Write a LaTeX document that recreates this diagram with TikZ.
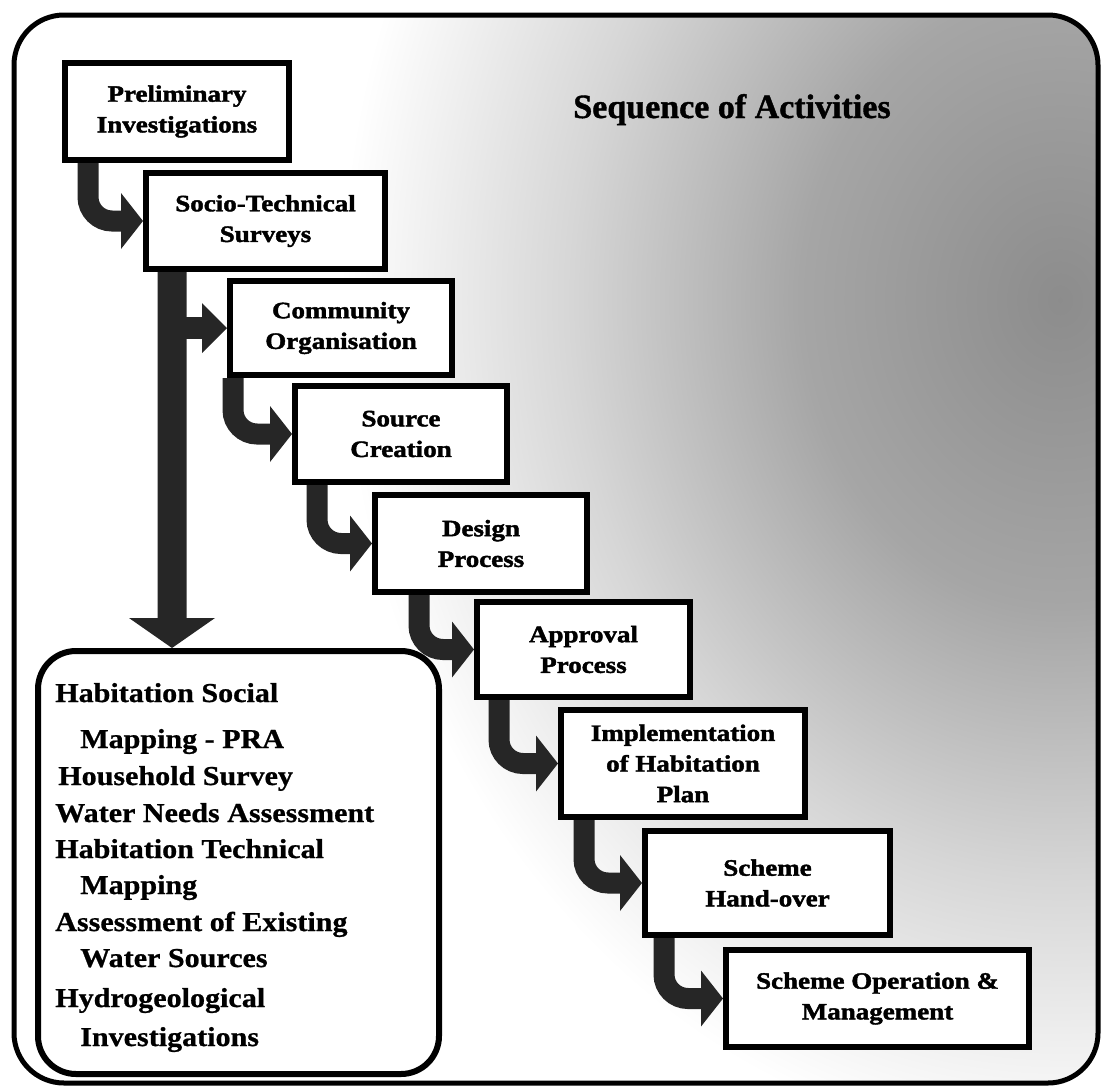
\documentclass[tikz,border=0pt]{standalone}
\usepackage{fontspec}
\newfontfamily\boxfont{Liberation Serif}[FakeStretch=1.15, FakeBold=1.8]
\newfontfamily\listfont{Liberation Serif}[FakeStretch=1.1, FakeBold=0.8]
\newfontfamily\titlefont{Liberation Serif}[FakeBold=1.2]
\usetikzlibrary{calc}
% soft grey haze behind the right-hand side of the sheet
\pgfdeclareradialshading{haze}{\pgfpoint{0bp}{0bp}}{color(0bp)=(black!45); color(9bp)=(black!35); color(17bp)=(black!16); color(25bp)=(white); color(50bp)=(white)}

% bent arrow: down out of one stage, then right into the next
\newcommand{\bendto}[3]{%
  \draw[shaft] ($(#1.south west)+(#2,0)$) |- ($(#3.west)+(-22,0)$);
  \fill[arrowfill] ($(#3.west)+(-22,-28)$) -- (#3.west) -- ($(#3.west)+(-22,28)$) -- cycle;}

\begin{document}
\begin{tikzpicture}[x=0.75pt, y=-0.75pt,
  stage/.style={draw, line width=4.5pt, fill=white, inner sep=0pt, align=center,
    font=\boxfont\bfseries\fontsize{17.6}{23}\selectfont},
  dims/.style 2 args={minimum width={(#1-6)*0.75pt}, minimum height={(#2-6)*0.75pt}},
  arrowfill/.style={fill=black!85},
  shaft/.style={draw=black!85, line width=15.75pt, rounded corners=18pt},
  listline/.style={anchor=base west, inner sep=0pt,
    font=\listfont\bfseries\fontsize{20.5}{24}\selectfont},
]
\useasboundingbox (0,0) rectangle (1103,1089);

% background haze, kept inside the frame
\begin{scope}
  \clip[rounded corners=37.5pt] (14,15) rectangle (1098,1083);
  \shade[shading=haze] (1060,300) ellipse [x radius=720, y radius=850];
\end{scope}

% outer frame
\draw[line width=3.75pt, rounded corners=37.5pt] (14,15) rectangle (1098,1083);

% title
\node[anchor=base, inner sep=0pt, font=\titlefont\bfseries\fontsize{25.5}{30}\selectfont]
  (title) at (732,118) {Sequence of Activities};

% the stages
\node[stage, dims={230}{103}] (prelim) at (177,111.5)   {Preliminary\\Investigations};
\node[stage, dims={245}{102}] (socio)  at (265.5,221)   {Socio-Technical\\Surveys};
\node[stage, dims={228}{100}] (comm)   at (341,328)     {Community\\Organisation};
\node[stage, dims={218}{102}] (source) at (401,434)     {Source\\Creation};
\node[stage, dims={218}{103}] (design) at (481,543.5)   {Design\\Process};
\node[stage, dims={219}{101}] (approv) at (583.5,649.5) {Approval\\Process};
\node[stage, dims={250}{113}] (impl)   at (683,763.5)   {Implementation\\of Habitation\\Plan};
\node[stage, dims={251}{110}] (hand)   at (767.5,883)   {Scheme\\Hand-over};
\node[stage, dims={309}{103}] (oper)   at (877.5,998.5) {Scheme Operation \&\\Management};

% survey contents box
\node[draw, line width=4.5pt, fill=white, rounded corners=28.5pt, inner sep=0pt,
  minimum width={(407-6)*0.75pt}, minimum height={(429-6)*0.75pt}]
  (habit) at (238.5,862.5) {};

% bent arrows between successive stages
\bendto{prelim}{26}{socio}
\bendto{comm}{6}{source}
\bendto{source}{25}{design}
\bendto{design}{47}{approv}
\bendto{approv}{25}{impl}
\bendto{impl}{26}{hand}
\bendto{hand}{22}{oper}

% long arrow from the surveys down to their contents
\coordinate (bt) at ($(socio.south west)+(29,0)$);
\coordinate (btip) at (bt |- habit.north);
\fill[arrowfill] ($(bt)+(-14.5,0)$) -- ($(btip)+(-14.5,-30)$) -- ($(btip)+(-43,-30)$)
  -- (btip) -- ($(btip)+(43,-30)$) -- ($(btip)+(14.5,-30)$) -- ($(bt)+(14.5,0)$) -- cycle;

% side branch into community organisation
\coordinate (br) at (bt |- comm.west);
\draw[draw=black!85, line width=16.5pt] (br) -- ($(comm.west)+(-25,0)$);
\fill[arrowfill] ($(comm.west)+(-25,-25)$) -- (comm.west) -- ($(comm.west)+(-25,25)$) -- cycle;

% contents of the survey box
\node[listline] (l1)  at (55,702)  {Habitation Social};
\node[listline] (l2)  at (80,748)  {Mapping - PRA};
\node[listline] (l3)  at (58,785)  {Household Survey};
\node[listline] (l4)  at (55,822)  {Water Needs Assessment};
\node[listline] (l5)  at (55,858)  {Habitation Technical};
\node[listline] (l6)  at (80,894)  {Mapping};
\node[listline] (l7)  at (55,931)  {Assessment of Existing};
\node[listline] (l8)  at (80,967)  {Water Sources};
\node[listline] (l9)  at (55,1007) {Hydrogeological};
\node[listline] (l10) at (80,1046) {Investigations};
\end{tikzpicture}
\end{document}
